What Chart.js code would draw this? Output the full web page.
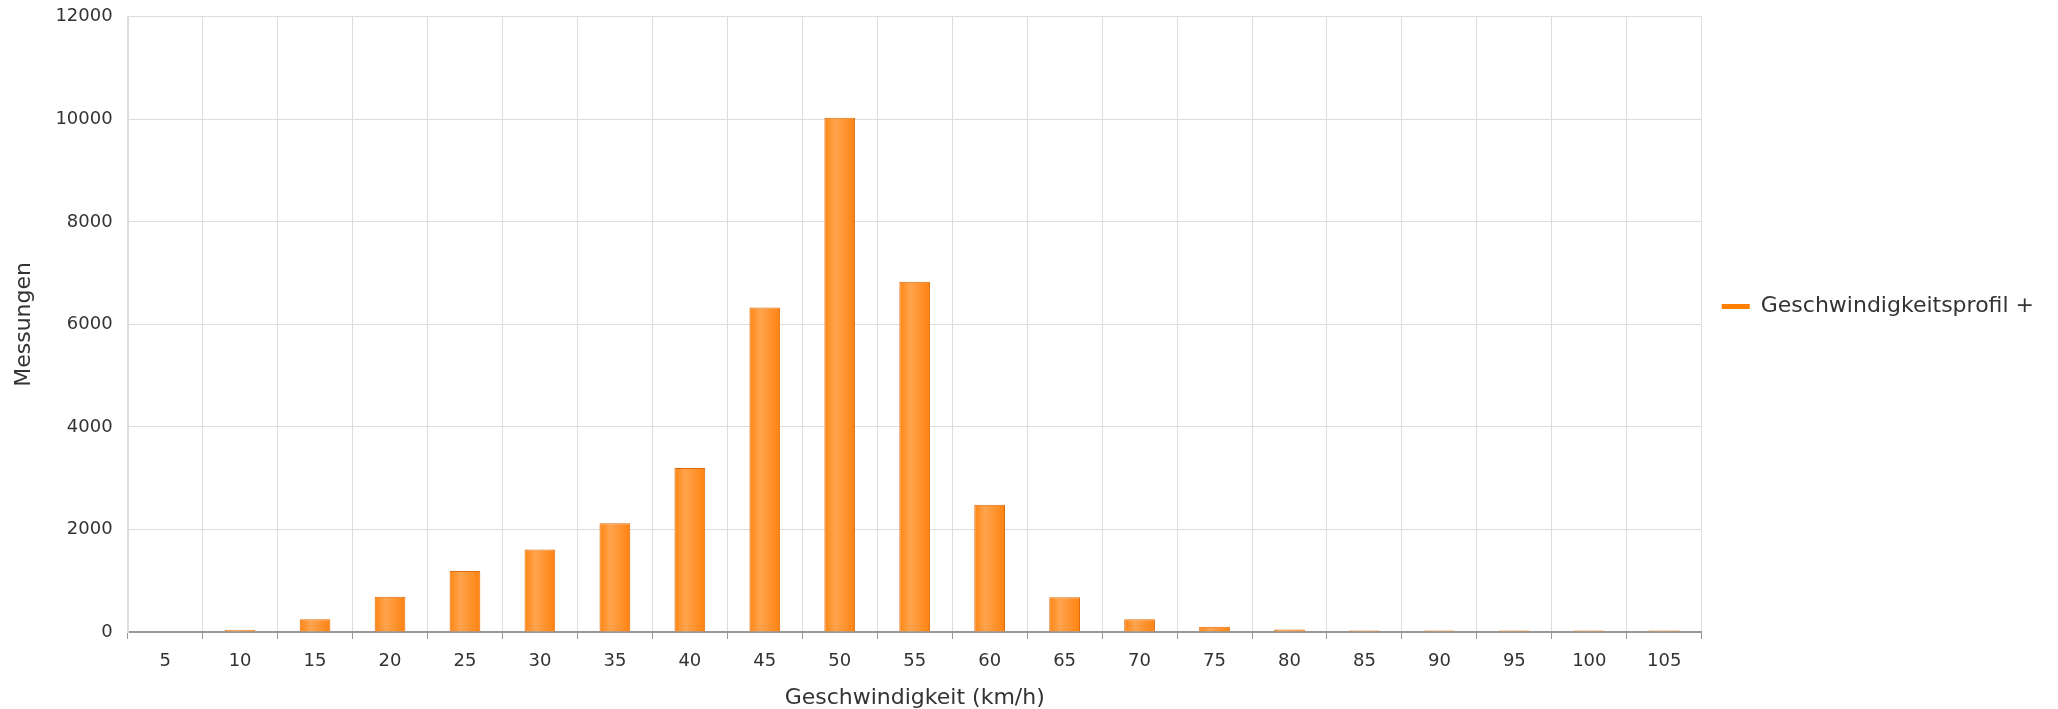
<!DOCTYPE html>
<html>
<head>
<meta charset="utf-8">
<script src="https://cdn.jsdelivr.net/npm/chart.js@4/dist/chart.umd.min.js"></script>
<style>
    body { margin: 0; background: #fff; }
    #wrap { width: 2058px; height: 709px; }
</style>
</head>
<body>
<div id="wrap"><canvas id="speedChart" width="2058" height="709"></canvas></div>
<script>
// Geschwindigkeitsklassen (km/h)
const geschwindigkeiten = ['5', '10', '15', '20', '25', '30', '35', '40', '45', '50', '55',
    '60', '65', '70', '75', '80', '85', '90', '95', '100', '105'];
// Anzahl Messungen je Klasse
const messungen = [0, 45, 250, 690, 1190, 1610, 2120, 3200, 6330, 10030, 6830,
    2480, 680, 250, 100, 50, 30, 30, 30, 30, 30];
const yTicks = [0, 2000, 4000, 6000, 8000, 10000, 12000];
const serienName = 'Geschwindigkeitsprofil +';

const BAR_FRACTION = 0.41;

function barGradient(context) {
    const chart = context.chart;
    const xScale = chart.scales.x;
    if (!chart.chartArea || !xScale) {
        return '#FF9030';
    }
    const slot = (chart.chartArea.right - chart.chartArea.left) / geschwindigkeiten.length;
    const w = slot * BAR_FRACTION;
    const cx = xScale.getPixelForValue(context.dataIndex);
    const g = chart.ctx.createLinearGradient(cx - w / 2, 0, cx + w / 2, 0);
    g.addColorStop(0, '#FF8512');
    g.addColorStop(0.35, '#FFA44E');
    g.addColorStop(1, '#FF8210');
    return g;
}

const textColor = '#333333';
const fontFamily = '"DejaVu Sans", Verdana, sans-serif';

const config = {
    type: 'bar',
    data: {
        labels: geschwindigkeiten,
        datasets: [{
                label: serienName,
                data: messungen,
                backgroundColor: barGradient,
                borderColor: '#DC6A08',
                borderWidth: 1,
                barPercentage: BAR_FRACTION,
                categoryPercentage: 1.0
            }]
    },
    options: {
        responsive: false,
        animation: false,
        layout: {
            padding: {left: 7, right: 14, top: 0, bottom: -2}
        },
        plugins: {
            tooltip: {enabled: false},
            legend: {
                position: 'right',
                align: 'start',
                title: {
                    display: true,
                    text: '',
                    padding: {top: 261, bottom: 0}
                },
                labels: {
                    color: textColor,
                    font: {family: fontFamily, size: 22},
                    boxWidth: 28,
                    boxHeight: 5,
                    padding: 20,
                    generateLabels: function (chart) {
                        return [{
                                text: serienName,
                                fillStyle: '#FF8000',
                                strokeStyle: '#FF8000',
                                lineWidth: 0,
                                datasetIndex: 0,
                                fontColor: textColor
                            }];
                    }
                }
            }
        },
        scales: {
            x: {
                grid: {
                    color: '#DDDDDD',
                    tickColor: '#999999',
                    tickLength: 7,
                    offset: true
                },
                border: {color: '#999999', width: 2},
                ticks: {
                    color: textColor,
                    font: {family: fontFamily, size: 18},
                    padding: 12,
                    maxRotation: 0
                },
                title: {
                    display: true,
                    text: 'Geschwindigkeit (km/h)',
                    color: textColor,
                    font: {family: fontFamily, size: 22},
                    padding: {top: 0, bottom: 0}
                }
            },
            y: {
                min: 0,
                max: 12000,
                afterBuildTicks: function (axis) {
                    axis.ticks = yTicks.map(v => ({value: v}));
                },
                grid: {
                    color: '#DDDDDD',
                    drawTicks: true,
                    tickLength: 9,
                    tickColor: 'rgba(0,0,0,0)'
                },
                border: {color: '#DDDDDD', width: 2},
                ticks: {
                    color: textColor,
                    font: {family: fontFamily, size: 18},
                    padding: 6,
                    callback: function (value) {
                        return String(value);
                    }
                },
                title: {
                    display: true,
                    text: 'Messungen',
                    color: textColor,
                    font: {family: fontFamily, size: 22},
                    padding: {top: 4, bottom: 12}
                }
            }
        }
    }
};

var speedChart = new Chart(
        document.getElementById('speedChart'),
        config
        );
</script>
</body>
</html>
